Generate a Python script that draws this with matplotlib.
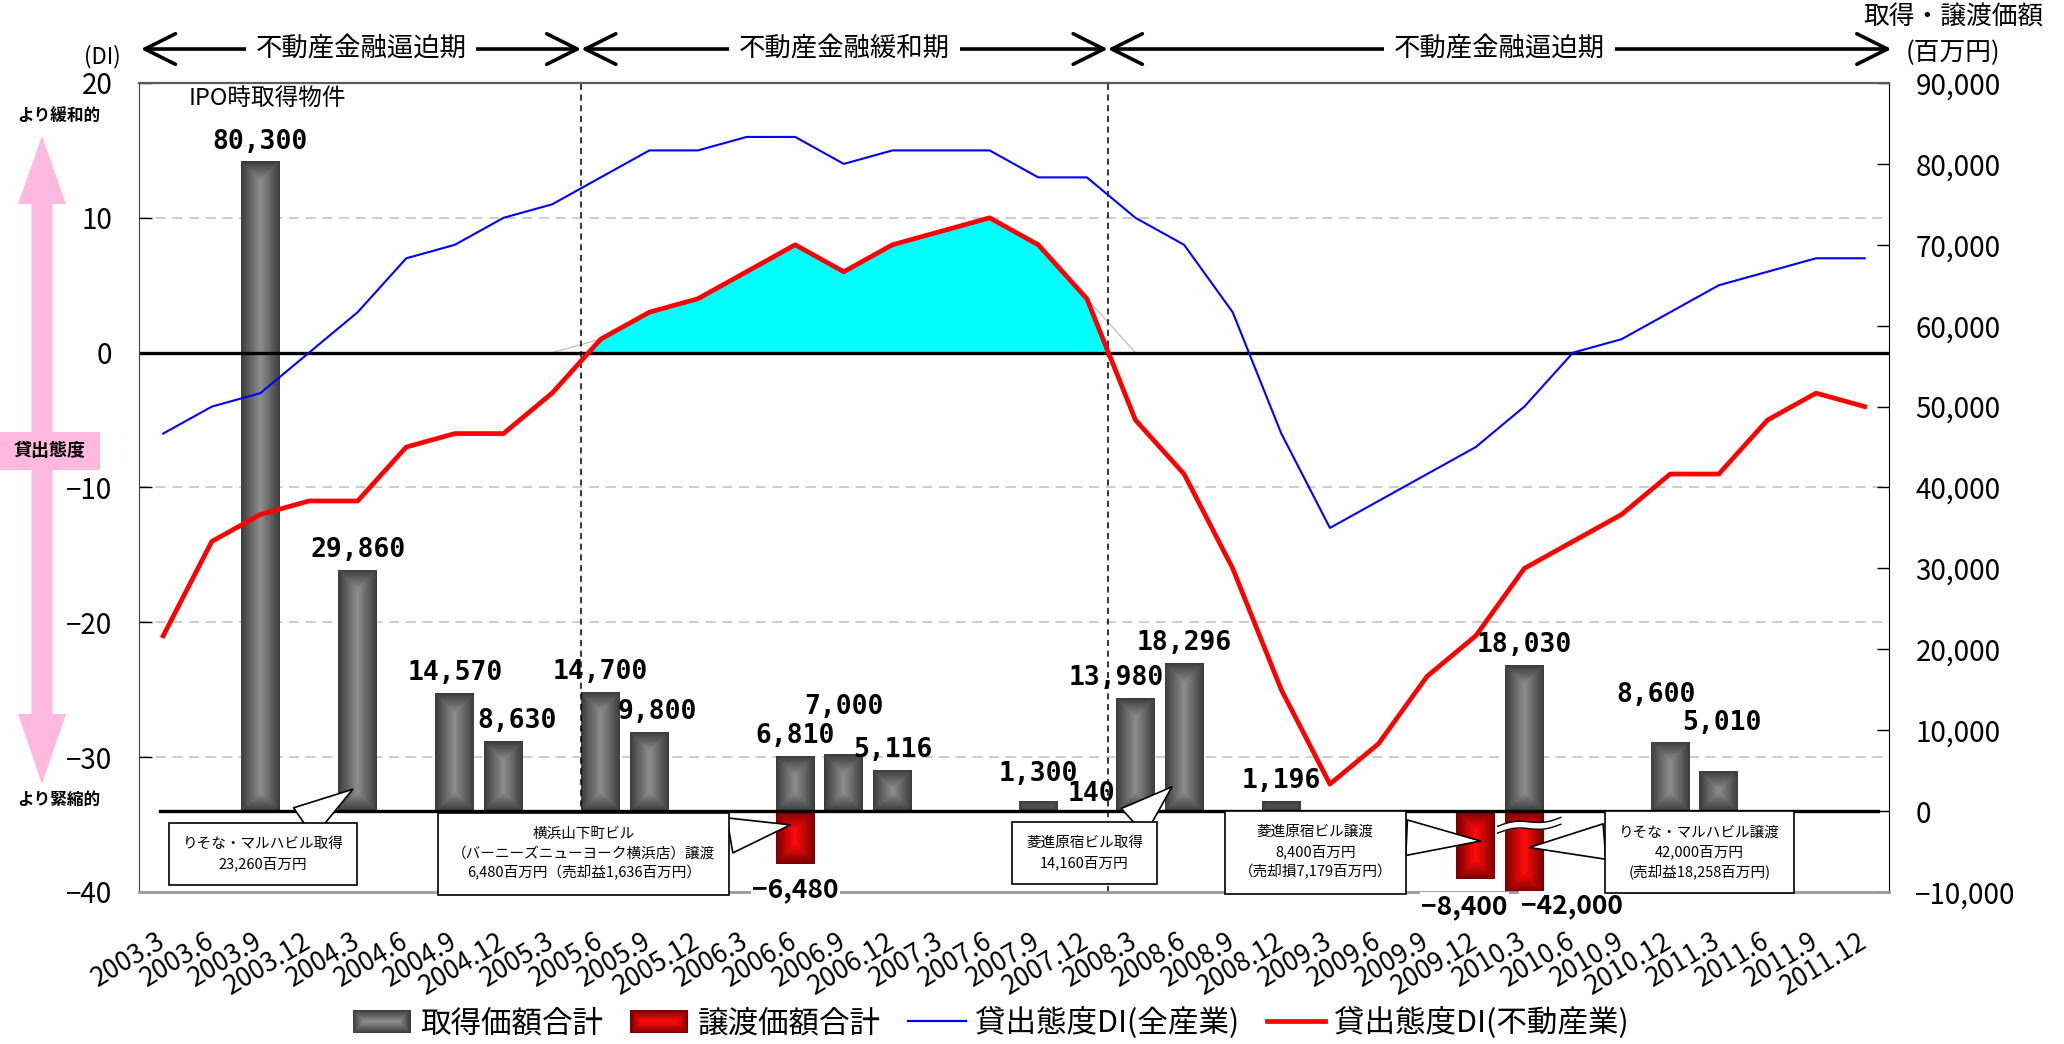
import matplotlib
matplotlib.use('Agg')
import matplotlib.pyplot as plt
import matplotlib.colors as mcolors
import numpy as np
from matplotlib.patches import Rectangle, Polygon
from matplotlib.lines import Line2D
from matplotlib.legend_handler import HandlerBase
from matplotlib.transforms import blended_transform_factory
from matplotlib.ticker import FuncFormatter

plt.rcParams['font.family'] = ['Noto Sans CJK JP', 'DejaVu Sans']

QUARTERS = ['2003.3', '2003.6', '2003.9', '2003.12', '2004.3', '2004.6', '2004.9', '2004.12',
            '2005.3', '2005.6', '2005.9', '2005.12', '2006.3', '2006.6', '2006.9', '2006.12',
            '2007.3', '2007.6', '2007.9', '2007.12', '2008.3', '2008.6', '2008.9', '2008.12',
            '2009.3', '2009.6', '2009.9', '2009.12', '2010.3', '2010.6', '2010.9', '2010.12',
            '2011.3', '2011.6', '2011.9', '2011.12']

# 貸出態度DI
DI_ALL = [-6, -4, -3, 0, 3, 7, 8, 10, 11, 13, 15, 15, 16, 16, 14, 15, 15, 15, 13, 13,
          10, 8, 3, -6, -13, -11, -9, -7, -4, 0, 1, 3, 5, 6, 7, 7]
DI_RE = [-21, -14, -12, -11, -11, -7, -6, -6, -3, 1, 3, 4, 6, 8, 6, 8, 9, 10, 8, 4,
         -5, -9, -16, -25, -32, -29, -24, -21, -16, -14, -12, -9, -9, -5, -3, -4]

# 取得・譲渡 (百万円)
ACQ_PERIODS = ['2003.9', '2004.3', '2004.9', '2004.12', '2005.6', '2005.9', '2006.6', '2006.9',
               '2006.12', '2007.9', '2007.12', '2008.3', '2008.6', '2008.12', '2010.3',
               '2010.12', '2011.3']
ACQ_AMOUNTS = [80300, 29860, 14570, 8630, 14700, 9800, 6810, 7000, 5116, 1300, 140, 13980,
               18296, 1196, 18030, 8600, 5010]
SALE_PERIODS = ['2006.6', '2009.12', '2010.3']
SALE_AMOUNTS = [-6480, -8400, -42000]

PERIOD_EDGES = [-0.46, 8.6, 19.43, 35.55]
PERIOD_NAMES = ['不動産金融逼迫期', '不動産金融緩和期', '不動産金融逼迫期']

# label nudges in points
ACQ_SHIFT = {'2004.12': (10, 0), '2005.9': (6, 0), '2006.9': (0, 20), '2007.9': (0, 5),
             '2007.12': (3, -3), '2008.3': (-14, 0), '2010.12': (-10, 19), '2011.3': (2, 20)}
SALE_SHIFT = {'2006.6': (0, -19), '2009.12': (-8, -20), '2010.3': (34, -10)}

# text, box centre, pointer tip, where the pointer leaves the box
CALLOUTS = [
    ('りそな・マルハビル取得\n23,260百万円', (2.05, -5300), (3.9, 2700), (0.62, 1.0)),
    ('横浜山下町ビル\n（バーニーズニューヨーク横浜店）譲渡\n6,480百万円（売却益1,636百万円）',
     (8.65, -5300), (12.9, -1700), (1.0, 0.8)),
    ('菱進原宿ビル取得\n14,160百万円', (18.95, -5200), (20.75, 3000), (0.78, 1.0)),
    ('菱進原宿ビル譲渡\n8,400百万円\n（売却損7,179百万円）', (23.7, -5100), (27.1, -3700), (1.0, 0.78)),
    ('りそな・マルハビル譲渡\n42,000百万円\n(売却益18,258百万円)', (31.6, -5100), (28.1, -4500), (0.0, 0.72)),
]

GRAY = ('#3c3c3c', '#8c8c8c')
RED = ('#7a0000', '#ff0a0a')
BAR_W = 0.8


def mix(c0, c1, t):
    a, b = np.array(mcolors.to_rgb(c0)), np.array(mcolors.to_rgb(c1))
    return a + (b - a) * t


def shaded_bar(axis, xc, y0, y1, width, colors, steps=30):
    lo, hi = axis.get_ylim()
    y0, y1 = max(min(y0, y1), lo), min(max(y0, y1), hi)
    (px0, py0), (px1, py1) = axis.transData.transform([(xc - width / 2, y0), (xc + width / 2, y1)])
    inv = axis.transData.inverted()
    half = (px1 - px0) / 2
    for k in range(steps):
        d = half * k / steps
        if py1 - py0 - 2 * d <= 0:
            break
        (a0, b0), (a1, b1) = inv.transform([(px0 + d, py0 + d), (px1 - d, py1 - d)])
        axis.add_patch(Rectangle((a0, b0), a1 - a0, b1 - b0, fc=mix(*colors, k / (steps - 1)),
                                 ec='none', zorder=2))


class ShadeHandler(HandlerBase):
    def __init__(self, colors):
        super().__init__()
        self.colors = colors

    def create_artists(self, legend, orig_handle, xdescent, ydescent, width, height, fontsize, trans):
        arts = []
        steps = 14
        for k in range(steps):
            d = height / 2 * k / steps
            arts.append(Rectangle((-xdescent + d, -ydescent + d), width - 2 * d, height - 2 * d,
                                  fc=mix(*self.colors, k / (steps - 1)), ec='none', transform=trans))
        return arts


fig = plt.figure(figsize=(20.64, 10.44), dpi=100)
ax = fig.add_axes([0.0673, 0.1456, 0.8479, 0.7749])
ax2 = ax.twinx()
ax.set_zorder(ax2.get_zorder() + 1)
ax.patch.set_visible(False)

x = np.arange(len(QUARTERS))
di_all = np.array(DI_ALL)
di_re = np.array(DI_RE)
ax.set_xlim(-0.5, len(QUARTERS) - 0.5)
ax.set_ylim(-40, 20)
ax2.set_ylim(-10000, 90000)

# dashed grid (drawn under the bars)
grid_tr = blended_transform_factory(ax2.transAxes, ax.transData)
for d in (-30, -20, -10, 10):
    ax2.add_line(Line2D([0, 1], [d, d], transform=grid_tr, color='#c4c4c4', lw=1.2,
                        ls=(0, (6, 4)), zorder=1))

# bars
for p, v in zip(ACQ_PERIODS, ACQ_AMOUNTS):
    shaded_bar(ax2, QUARTERS.index(p), 0, v, BAR_W, GRAY)
for p, v in zip(SALE_PERIODS, SALE_AMOUNTS):
    shaded_bar(ax2, QUARTERS.index(p), 0, v, BAR_W, RED)
ax2.axhline(0, xmin=0.012, xmax=0.994, color='black', lw=2.4, zorder=3)

# break mark on the truncated bar
i_big = QUARTERS.index(SALE_PERIODS[int(np.argmin(SALE_AMOUNTS))])
bx = np.linspace(i_big - 0.55, i_big + 0.75, 60)
t = (bx - bx[0]) / (bx[-1] - bx[0])
mid = -2300 + 1100 * t + 300 * np.sin(2 * np.pi * t)
ax2.fill_between(bx, mid - 420, mid + 420, color='white', lw=0, zorder=4)
ax2.plot(bx, mid - 420, color='black', lw=1, zorder=4.1)
ax2.plot(bx, mid + 420, color='black', lw=1, zorder=4.1)

# DI lines
i0, i1 = 8, 21
ax.plot(x[i0:i1], np.maximum(di_re[i0:i1], 0), color='#b8b8b8', lw=0.8, zorder=1.5)
ax.fill_between(x, di_re, 0, where=di_re > 0, interpolate=True, color='#00ffff', lw=0, zorder=1.6)
ax.axhline(0, color='black', lw=2.4, zorder=2)
ax.plot(x, di_all, color='#0000ff', lw=1.5, zorder=3)
ax.plot(x, di_re, color='#ff0000', lw=3.4, zorder=3.1)
for e in PERIOD_EDGES[1:-1]:
    ax.axvline(e, color='black', lw=1.1, ls=(0, (4, 3)), zorder=2.5)

# value labels
num_font = dict(family='DejaVu Sans Mono', fontweight='bold', fontsize=19)
for p, v in zip(ACQ_PERIODS, ACQ_AMOUNTS):
    dx, dy = ACQ_SHIFT.get(p, (0, 0))
    ax.annotate(f'{v:,}', xy=(QUARTERS.index(p), v), xycoords=ax2.transData,
                xytext=(dx, 5 + dy), textcoords='offset points', ha='center', va='bottom',
                zorder=7, **num_font)
lo = ax2.get_ylim()[0]
for p, v in zip(SALE_PERIODS, SALE_AMOUNTS):
    dx, dy = SALE_SHIFT.get(p, (0, -19))
    ax.annotate(f'{v:,}'.replace('-', '−'), xy=(QUARTERS.index(p), max(v, lo)),
                xycoords=ax2.transData, xytext=(dx, dy), textcoords='offset points',
                ha='center', va='center', zorder=7, annotation_clip=False,
                fontsize=19, fontweight='bold',
                bbox=dict(fc='white', ec='none', pad=1))
ax.annotate('IPO時取得物件', xy=(QUARTERS.index(ACQ_PERIODS[0]), ACQ_AMOUNTS[0]),
            xycoords=ax2.transData, xytext=(5, 45), textcoords='offset points',
            ha='center', va='center', fontsize=17, zorder=7)

# callout boxes
for text, box_xy, tip_xy, rel in CALLOUTS:
    ax.annotate(text, xy=tip_xy, xycoords=ax2.transData, xytext=box_xy, textcoords=ax2.transData,
                ha='center', va='center', fontsize=10.5, linespacing=1.45, zorder=8,
                bbox=dict(boxstyle='square,pad=0.95', fc='white', ec='black', lw=1.2),
                arrowprops=dict(arrowstyle='wedge,tail_width=1.6', mutation_scale=16, relpos=rel,
                                fc='white', ec='black', lw=1.2, shrinkA=0, shrinkB=0))

# period arrows above the plot
top_tr = blended_transform_factory(ax.transData, ax.transAxes)
for a, b, name in zip(PERIOD_EDGES[:-1], PERIOD_EDGES[1:], PERIOD_NAMES):
    ax.annotate('', xy=(b, 1.042), xytext=(a, 1.042), xycoords=top_tr, annotation_clip=False,
                arrowprops=dict(arrowstyle='<->,head_length=1.1,head_width=0.55', mutation_scale=20,
                                lw=2.6, color='black', shrinkA=0, shrinkB=0))
    ax.text((a + b) / 2, 1.042, name, transform=top_tr, ha='center', va='center', fontsize=19,
            bbox=dict(fc='white', ec='none', pad=7), clip_on=False, zorder=9)

# axes styling
ax.set_xticks(x)
ax.set_xticklabels(QUARTERS, rotation=31, ha='right', va='center', rotation_mode='anchor',
                   fontsize=19)
ax.tick_params(axis='x', length=0, pad=34)
ax.set_yticks(range(-40, 21, 10))
ax.yaxis.set_major_formatter(FuncFormatter(lambda v, _: f'{int(v)}'.replace('-', '−')))
ax.tick_params(axis='y', direction='in', length=9, width=1, pad=19, labelsize=20)
ax2.set_yticks(range(-10000, 90001, 10000))
ax2.yaxis.set_major_formatter(FuncFormatter(lambda v, _: f'{int(v):,}'.replace('-', '−')))
ax2.tick_params(axis='y', direction='in', length=9, width=1, pad=19, labelsize=20)

ax.spines['left'].set_color('#404040')
ax.spines['top'].set_color('#5a5a5a')
ax.spines['top'].set_linewidth(1.6)
ax.spines['bottom'].set_color('#9a9a9a')
ax.spines['bottom'].set_linewidth(2)
ax.spines['right'].set_visible(False)
for s in ('left', 'top', 'bottom'):
    ax2.spines[s].set_visible(False)
ax2.spines['right'].set_color('black')

ax.set_xlim(-0.5, len(QUARTERS) - 0.5)
ax.set_ylim(-40, 20)
ax2.set_ylim(-10000, 90000)

# legend
gray_h = Rectangle((0, 0), 1, 1)
red_h = Rectangle((0, 0), 1, 1)
handles = [gray_h, red_h, Line2D([], [], color='#0000ff', lw=1.6), Line2D([], [], color='#ff0000', lw=3.4)]
labels = ['取得価額合計', '譲渡価額合計', '貸出態度DI(全産業)', '貸出態度DI(不動産業)']
fig.legend(handles, labels, loc='center', bbox_to_anchor=(0.48, 0.02), ncol=4, frameon=False,
           fontsize=22, handlelength=1.9, handleheight=0.8, handletextpad=0.3, columnspacing=0.9,
           handler_map={gray_h: ShadeHandler(GRAY), red_h: ShadeHandler(RED)})

# side notes in pixel coordinates
deco = fig.add_axes([0, 0, 1, 1])
deco.set_xlim(0, 2064)
deco.set_ylim(1044, 0)
deco.axis('off')
pink = '#ffb8de'
cx = 42
deco.add_patch(Polygon([(cx, 136), (cx + 24, 204), (cx + 10.5, 204), (cx + 10.5, 714), (cx + 24, 714),
                        (cx, 784), (cx - 24, 714), (cx - 10.5, 714), (cx - 10.5, 204), (cx - 24, 204)],
                       closed=True, fc=pink, ec='none'))
deco.add_patch(Rectangle((0, 432), 100, 38, fc=pink, ec='none'))
deco.text(50, 451, '貸出態度', ha='center', va='center', fontsize=13, fontweight='bold')
deco.text(59, 116, 'より緩和的', ha='center', va='center', fontsize=12, fontweight='bold')
deco.text(59, 800, 'より緊縮的', ha='center', va='center', fontsize=12, fontweight='bold')
deco.text(102, 57, '(DI)', ha='center', va='center', fontsize=16)
deco.text(1953, 18, '取得・譲渡価額', ha='center', va='center', fontsize=18.5)
deco.text(1953, 53, '(百万円)', ha='center', va='center', fontsize=18.5)

fig.savefig('out.png', dpi=100, facecolor='white')
